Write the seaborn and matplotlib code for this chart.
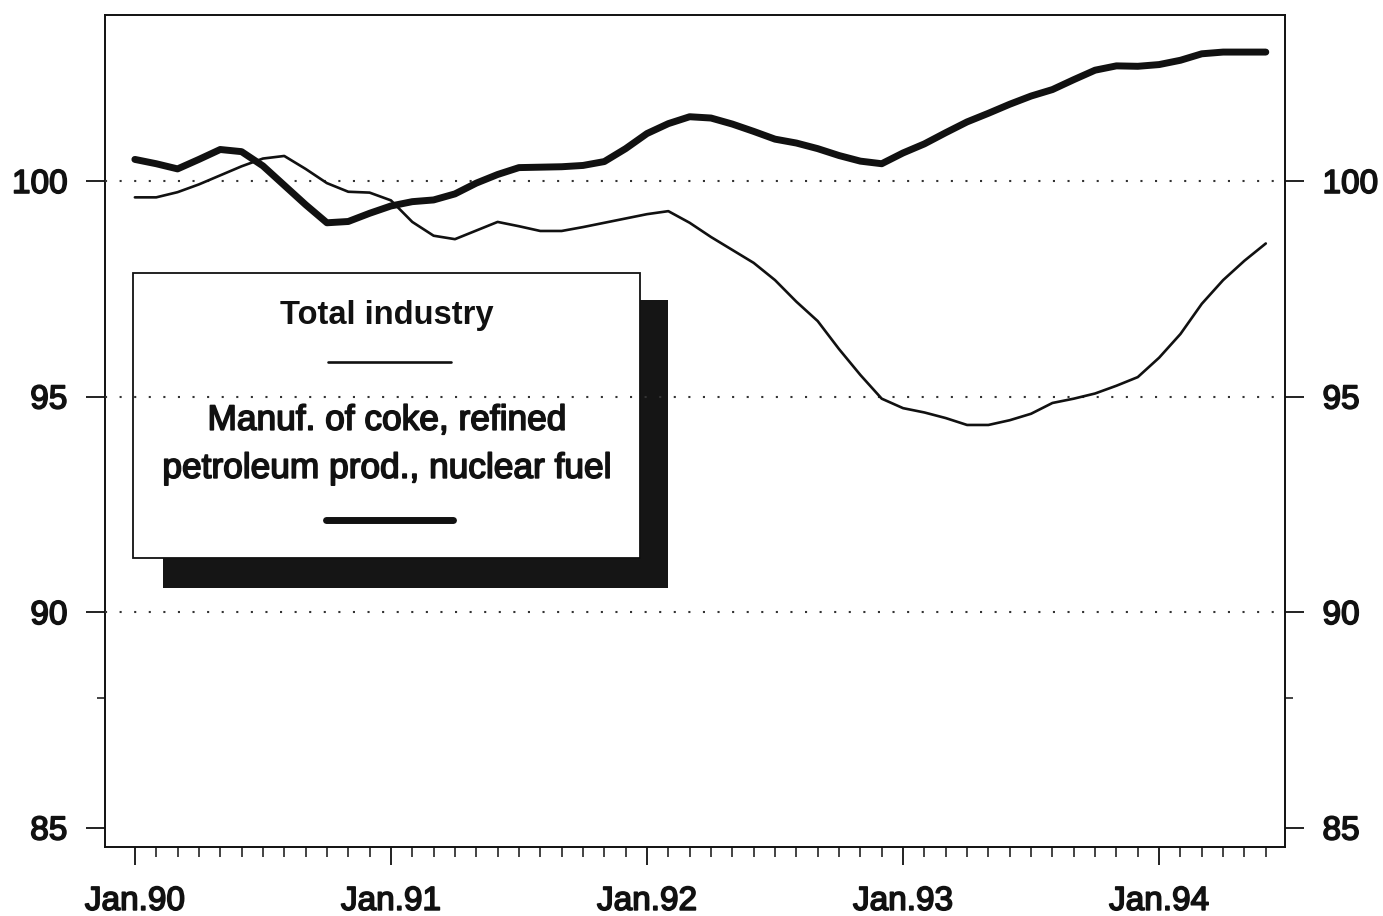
import numpy as np
import pandas as pd
import matplotlib
matplotlib.use("Agg")
import matplotlib.pyplot as plt
from matplotlib.patches import Rectangle
from matplotlib.lines import Line2D
from matplotlib.ticker import FixedLocator
import matplotlib.patheffects as pe
import seaborn as sns

# ---- data (monthly index, Jan.90 = 100 scale) ----
months = list(range(54))  # Jan.90 ... Jun.94
total_industry = [
    99.62, 99.62, 99.74, 99.92, 100.13, 100.34, 100.52, 100.58, 100.28, 99.95,
    99.75, 99.73, 99.55, 99.05, 98.73, 98.65, 98.85, 99.05, 98.95, 98.84,
    98.84, 98.93, 99.03, 99.13, 99.23, 99.30, 99.03, 98.70, 98.40, 98.10,
    97.70, 97.20, 96.75, 96.10, 95.50, 94.95, 94.73, 94.63, 94.50, 94.34,
    94.34, 94.45, 94.60, 94.85, 94.95, 95.07, 95.25, 95.45, 95.90, 96.45,
    97.15, 97.70, 98.15, 98.55,
]
coke_petroleum = [
    100.50, 100.40, 100.28, 100.50, 100.73, 100.68, 100.35, 99.90, 99.45, 99.03,
    99.06, 99.25, 99.42, 99.52, 99.56, 99.70, 99.95, 100.15, 100.31, 100.32,
    100.33, 100.36, 100.45, 100.75, 101.10, 101.33, 101.49, 101.46, 101.32, 101.15,
    100.97, 100.88, 100.75, 100.59, 100.46, 100.40, 100.65, 100.86, 101.12, 101.37,
    101.57, 101.78, 101.97, 102.12, 102.35, 102.57, 102.67, 102.66, 102.70, 102.80,
    102.95, 102.99, 102.99, 102.99,
]
year_ticks = [0, 12, 24, 36, 48]
year_labels = ["Jan.90", "Jan.91", "Jan.92", "Jan.93", "Jan.94"]
y_ticks = [85, 90, 95, 100]
grid_levels = [90, 95, 100]
legend_title = "Total industry"
legend_second = "Manuf. of coke, refined\npetroleum prod., nuclear fuel"

df = pd.DataFrame({"month": months, "total": total_industry, "coke": coke_petroleum})

sns.set_theme(style="white")
plt.rcParams["font.family"] = ["Liberation Sans", "DejaVu Sans"]

INK = "#111111"
thicken = [pe.withStroke(linewidth=1.2, foreground=INK)]

fig = plt.figure(figsize=(13.83, 9.16), dpi=100)
fig.patch.set_facecolor("white")
ax = fig.add_axes([105 / 1383, 1 - 847 / 916, 1180 / 1383, 832 / 916])
ax.set_facecolor("white")

sns.lineplot(data=df, x="month", y="total", ax=ax, color=INK, linewidth=1.9, zorder=4)
sns.lineplot(data=df, x="month", y="coke", ax=ax, color=INK, linewidth=5.0,
             zorder=5, solid_capstyle="round", solid_joinstyle="round")

ax.set_xlim(-1.4, 53.9)
ax.set_ylim(84.55, 103.85)
ax.set_xlabel("")
ax.set_ylabel("")

for lvl in grid_levels:
    ax.axhline(lvl, color="#333333", linewidth=1.5, linestyle=(0, (1, 6)), zorder=3)

# ticks
ax.xaxis.set_major_locator(FixedLocator(year_ticks))
ax.set_xticklabels(year_labels)
ax.xaxis.set_minor_locator(FixedLocator([m for m in range(0, 54)]))
ax.yaxis.set_major_locator(FixedLocator(y_ticks))
ax.yaxis.set_minor_locator(FixedLocator([88]))
ax.tick_params(axis="x", which="major", direction="out", length=13, width=1.3,
               colors=INK, pad=15, labelsize=24, bottom=True)
ax.tick_params(axis="x", which="minor", direction="out", length=7, width=1.1,
               colors=INK, bottom=True)
ax.tick_params(axis="y", which="major", direction="out", length=14, width=1.3,
               colors=INK, pad=13, labelsize=24, left=True, right=True,
               labelleft=True, labelright=True)
ax.tick_params(axis="y", which="minor", direction="out", length=6, width=1.1,
               colors=INK, left=True, right=True)
for lab in ax.get_xticklabels() + ax.get_yticklabels():
    lab.set_color(INK)
    lab.set_path_effects(thicken)

for sp in ax.spines.values():
    sp.set_visible(True)
    sp.set_color(INK)
    sp.set_linewidth(1.4)

# legend panel (box with drop shadow)
ax.add_patch(Rectangle((0.0492, 0.311), 0.428, 0.346, transform=ax.transAxes,
                       facecolor="#151515", edgecolor="none", zorder=1))
ax.add_patch(Rectangle((0.0237, 0.347), 0.4297, 0.343, transform=ax.transAxes,
                       facecolor="white", edgecolor=INK, linewidth=1.3, zorder=2))
ax.text(0.239, 0.639, legend_title, transform=ax.transAxes, ha="center", va="center",
        fontsize=23.5, fontweight="bold", color=INK, zorder=6)
ax.add_line(Line2D([0.189, 0.2932], [0.583, 0.583], transform=ax.transAxes,
                   color=INK, linewidth=1.9, zorder=6))
ax.text(0.239, 0.484, legend_second, transform=ax.transAxes, ha="center", va="center",
        fontsize=25.4, color=INK, linespacing=1.58, zorder=6, path_effects=thicken)
ax.add_line(Line2D([0.1873, 0.2949], [0.393, 0.393], transform=ax.transAxes,
                   color=INK, linewidth=5.0, zorder=6))

fig.savefig("out.png", dpi=100, facecolor="white")
